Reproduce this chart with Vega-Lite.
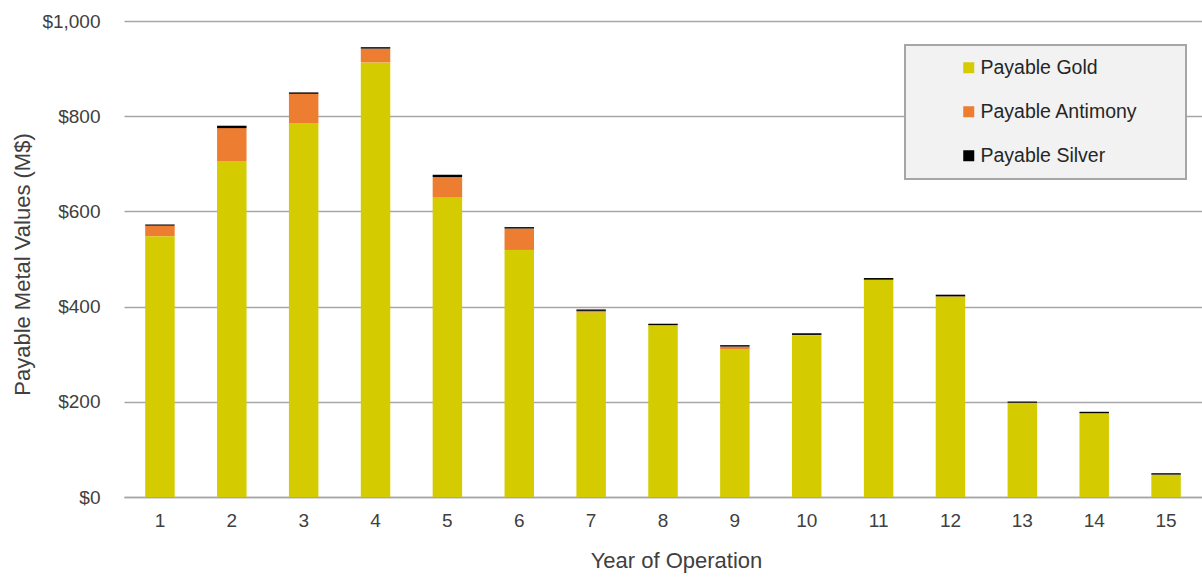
{
  "$schema": "https://vega.github.io/schema/vega-lite/v6.json",
  "autosize": "none",
  "padding": {"left": 124, "top": 21, "right": 0, "bottom": 80},
  "width": 1078,
  "height": 476,
  "background": "#ffffff",
  "data": {
    "values": [
      {"year": 1, "metal": "Payable Gold", "stackOrder": 1, "value": 548},
      {"year": 1, "metal": "Payable Antimony", "stackOrder": 2, "value": 22},
      {"year": 1, "metal": "Payable Silver", "stackOrder": 3, "value": 2.5},
      {"year": 2, "metal": "Payable Gold", "stackOrder": 1, "value": 705},
      {"year": 2, "metal": "Payable Antimony", "stackOrder": 2, "value": 70},
      {"year": 2, "metal": "Payable Silver", "stackOrder": 3, "value": 5},
      {"year": 3, "metal": "Payable Gold", "stackOrder": 1, "value": 785},
      {"year": 3, "metal": "Payable Antimony", "stackOrder": 2, "value": 62},
      {"year": 3, "metal": "Payable Silver", "stackOrder": 3, "value": 3},
      {"year": 4, "metal": "Payable Gold", "stackOrder": 1, "value": 913},
      {"year": 4, "metal": "Payable Antimony", "stackOrder": 2, "value": 29},
      {"year": 4, "metal": "Payable Silver", "stackOrder": 3, "value": 3},
      {"year": 5, "metal": "Payable Gold", "stackOrder": 1, "value": 630},
      {"year": 5, "metal": "Payable Antimony", "stackOrder": 2, "value": 42},
      {"year": 5, "metal": "Payable Silver", "stackOrder": 3, "value": 5},
      {"year": 6, "metal": "Payable Gold", "stackOrder": 1, "value": 519},
      {"year": 6, "metal": "Payable Antimony", "stackOrder": 2, "value": 45},
      {"year": 6, "metal": "Payable Silver", "stackOrder": 3, "value": 3},
      {"year": 7, "metal": "Payable Gold", "stackOrder": 1, "value": 388},
      {"year": 7, "metal": "Payable Antimony", "stackOrder": 2, "value": 3},
      {"year": 7, "metal": "Payable Silver", "stackOrder": 3, "value": 3},
      {"year": 8, "metal": "Payable Gold", "stackOrder": 1, "value": 360},
      {"year": 8, "metal": "Payable Antimony", "stackOrder": 2, "value": 1},
      {"year": 8, "metal": "Payable Silver", "stackOrder": 3, "value": 3},
      {"year": 9, "metal": "Payable Gold", "stackOrder": 1, "value": 311},
      {"year": 9, "metal": "Payable Antimony", "stackOrder": 2, "value": 5},
      {"year": 9, "metal": "Payable Silver", "stackOrder": 3, "value": 3},
      {"year": 10, "metal": "Payable Gold", "stackOrder": 1, "value": 340},
      {"year": 10, "metal": "Payable Antimony", "stackOrder": 2, "value": 0.5},
      {"year": 10, "metal": "Payable Silver", "stackOrder": 3, "value": 3.5},
      {"year": 11, "metal": "Payable Gold", "stackOrder": 1, "value": 456},
      {"year": 11, "metal": "Payable Antimony", "stackOrder": 2, "value": 0.5},
      {"year": 11, "metal": "Payable Silver", "stackOrder": 3, "value": 3.5},
      {"year": 12, "metal": "Payable Gold", "stackOrder": 1, "value": 421},
      {"year": 12, "metal": "Payable Antimony", "stackOrder": 2, "value": 0.5},
      {"year": 12, "metal": "Payable Silver", "stackOrder": 3, "value": 3.5},
      {"year": 13, "metal": "Payable Gold", "stackOrder": 1, "value": 198},
      {"year": 13, "metal": "Payable Antimony", "stackOrder": 2, "value": 0},
      {"year": 13, "metal": "Payable Silver", "stackOrder": 3, "value": 2.5},
      {"year": 14, "metal": "Payable Gold", "stackOrder": 1, "value": 176},
      {"year": 14, "metal": "Payable Antimony", "stackOrder": 2, "value": 0},
      {"year": 14, "metal": "Payable Silver", "stackOrder": 3, "value": 3},
      {"year": 15, "metal": "Payable Gold", "stackOrder": 1, "value": 47},
      {"year": 15, "metal": "Payable Antimony", "stackOrder": 2, "value": 0},
      {"year": 15, "metal": "Payable Silver", "stackOrder": 3, "value": 3}
    ]
  },
  "mark": {"type": "bar"},
  "encoding": {
    "x": {
      "field": "year",
      "type": "ordinal",
      "scale": {"paddingInner": 0.59, "paddingOuter": 0.295},
      "axis": {
        "title": "Year of Operation",
        "labelAngle": 0,
        "labelFont": "Liberation Sans",
        "labelFontSize": 19,
        "labelColor": "#404040",
        "labelPadding": 14,
        "ticks": false,
        "domainColor": "#a6a6a6",
        "domainWidth": 1.3,
        "titleFont": "Liberation Sans",
        "titleFontSize": 22,
        "titleFontWeight": "normal",
        "titleColor": "#404040",
        "titleX": 552,
        "titleY": 63,
        "titleBaseline": "middle",
        "titleAlign": "center"
      }
    },
    "y": {
      "field": "value",
      "type": "quantitative",
      "stack": "zero",
      "scale": {"domain": [0, 1000], "nice": false},
      "axis": {
        "title": "Payable Metal Values (M$)",
        "values": [0, 200, 400, 600, 800, 1000],
        "format": "$,.0f",
        "labelFont": "Liberation Sans",
        "labelFontSize": 19,
        "labelColor": "#404040",
        "labelPadding": 24,
        "ticks": false,
        "domain": false,
        "grid": true,
        "gridColor": "#a6a6a6",
        "gridWidth": 1.3,
        "titleFont": "Liberation Sans",
        "titleFontSize": 22,
        "titleFontWeight": "normal",
        "titleColor": "#404040",
        "titleX": -102,
        "titleY": 243,
        "titleAngle": 270,
        "titleBaseline": "middle",
        "titleAlign": "center"
      }
    },
    "color": {
      "field": "metal",
      "type": "nominal",
      "sort": ["Payable Gold", "Payable Antimony", "Payable Silver"],
      "scale": {
        "domain": ["Payable Gold", "Payable Antimony", "Payable Silver"],
        "range": ["#d4cb00", "#ed7d31", "#000000"]
      },
      "legend": {
        "title": "\u00a0",
        "titleOrient": "right",
        "titlePadding": 35,
        "titleFontSize": 19.5,
        "orient": "none",
        "legendX": 781,
        "legendY": 24,
        "fillColor": "#f2f2f2",
        "strokeColor": "#a6a6a6",
        "padding": 13,
        "symbolType": "square",
        "symbolSize": 121,
        "symbolStrokeWidth": 0,
        "symbolOffset": 41,
        "labelOffset": 2,
        "labelFont": "Liberation Sans",
        "labelFontSize": 19.5,
        "labelColor": "#262626",
        "labelLimit": 400,
        "rowPadding": 23,
        "encode": {"legend": {"update": {"strokeWidth": {"value": 2}}}}
      }
    },
    "order": {"field": "stackOrder", "type": "quantitative", "sort": "ascending"}
  },
  "config": {"view": {"stroke": null}}
}
